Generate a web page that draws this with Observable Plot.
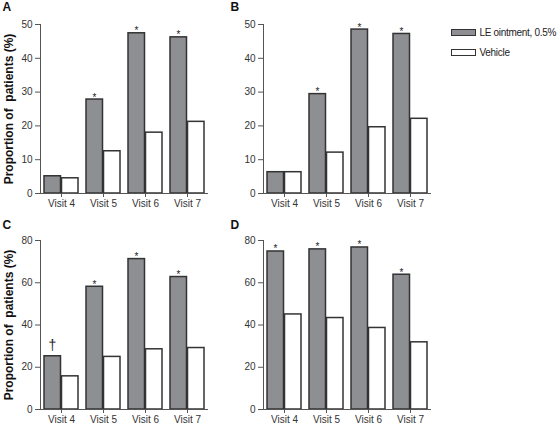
<!DOCTYPE html>
<html><head><meta charset="utf-8">
<script src="https://cdn.jsdelivr.net/npm/d3@7"></script>
<script src="https://cdn.jsdelivr.net/npm/@observablehq/plot@0.6"></script>
<style>
body{margin:0;background:#fff;font-family:"Liberation Sans",Arial,sans-serif}
#c{position:relative;width:560px;height:426px;overflow:hidden}
.p{position:absolute}
.lg{position:absolute;font-size:10px;letter-spacing:-0.3px;color:#222;line-height:10px;white-space:nowrap}
.bx{position:absolute;box-sizing:border-box;border:1.5px solid #333}
</style></head><body><div id="c"></div>
<script>
const visits = ["Visit 4","Visit 5","Visit 6","Visit 7"];
const seriesNames = ["LE ointment, 0.5%","Vehicle"];
const ticksAB = [0,10,20,30,40,50];
const ticksCD = [0,20,40,60,80];
const leA  = [5.1, 27.8, 47.4, 46.2];
const vehA = [4.5, 12.5, 18.0, 21.2];
const sigA = ["", "*", "*", "*"];
const leB  = [6.3, 29.4, 48.5, 47.2];
const vehB = [6.3, 12.1, 19.6, 22.1];
const sigB = ["", "*", "*", "*"];
const leC  = [25.2, 58.1, 71.2, 62.7];
const vehC = [15.7, 24.9, 28.5, 29.1];
const sigC = ["†", "*", "*", "*"];
const leD  = [74.8, 75.8, 76.7, 63.8];
const vehD = [45.0, 43.3, 38.6, 31.8];
const sigD = ["*", "*", "*", "*"];
const yTitle = "Proportion of\u00a0 patients (%)";

const GRAY = "#8e8f93", DARK = "#333", AX = "#555", TXT = "#333";

function panel(letter, le, veh, sig, ticks, height, mt, mb, title, letterDx, letterDy) {
  const data = visits.map((v, i) => ({visit: v, le: le[i], veh: veh[i], sig: sig[i]}));
  const marks = [
    Plot.barY(data, {x: "visit", y: "le", fill: GRAY, stroke: DARK, strokeWidth: 1.5, insetRight: 17.5}),
    Plot.barY(data, {x: "visit", y: "veh", fill: "#fff", stroke: DARK, strokeWidth: 1.5, insetLeft: 17.5}),
    Plot.text(data.filter(d => d.sig === "*"), {x: "visit", y: "le", text: "sig", dx: -9, dy: 1, lineAnchor: "bottom", fontSize: 10, fill: "#222"}),
    Plot.text(data.filter(d => d.sig === "†"), {x: "visit", y: "le", text: "sig", dx: -9, dy: -6, lineAnchor: "bottom", fontSize: 14, fill: "#222"}),
    Plot.ruleY([0], {stroke: AX, strokeWidth: 1}),
    Plot.frame({anchor: "left", stroke: AX, strokeWidth: 1}),
    Plot.axisY({ticks, tickSize: 5, tickPadding: 3, fontSize: 10, color: TXT, stroke: AX, label: null}),
    Plot.axisX({tickSize: 4, tickPadding: 2, fontSize: 10, color: TXT, stroke: AX, label: null}),
    Plot.text([letter], {frameAnchor: "top-left", dx: letterDx, dy: letterDy, textAnchor: "start", lineAnchor: "bottom", fontSize: 12, fontWeight: "bold", fill: "#111"})
  ];
  if (title) marks.push(Plot.text([yTitle], {frameAnchor: "left", dx: -28, rotate: -90, textAnchor: "middle", lineAnchor: "bottom", fontSize: 12, fontWeight: "bold", fill: "#111"}));
  return Plot.plot({
    width: 240, height, marginLeft: 40, marginRight: 32, marginTop: mt, marginBottom: mb,
    style: {background: "transparent", fontFamily: "Liberation Sans, Arial, sans-serif", overflow: "visible"},
    x: {domain: visits, paddingInner: 0.2, paddingOuter: 0.1, axis: null},
    y: {domain: [0, ticks[ticks.length - 1]], axis: null},
    marks
  });
}

const c = document.getElementById("c");
function place(el, left, top) { el.classList.add("p"); el.style.left = left + "px"; el.style.top = top + "px"; c.appendChild(el); }
place(panel("A", leA, vehA, sigA, ticksAB, 210, 24, 17, true, -38, -13.5), 0, 0);
place(panel("B", leB, vehB, sigB, ticksAB, 210, 24, 17, false, -33, -13.5), 223, 0);
place(panel("C", leC, vehC, sigC, ticksCD, 216, 30, 17, true, -38, -12), 0, 210);
place(panel("D", leD, vehD, sigD, ticksCD, 216, 30, 17, false, -33, -12), 223, 210);
// legend
const fills = [GRAY, "#fff"];
seriesNames.forEach((s, i) => {
  const b = document.createElement("div");
  b.className = "bx"; b.style.left = "451px"; b.style.top = (29 + i * 20) + "px";
  b.style.width = "25px"; b.style.height = "7px"; b.style.background = fills[i];
  c.appendChild(b);
  const t = document.createElement("div");
  t.className = "lg"; t.textContent = s; t.style.left = "479.5px"; t.style.top = (27.5 + i * 20) + "px";
  c.appendChild(t);
});
</script></body></html>
